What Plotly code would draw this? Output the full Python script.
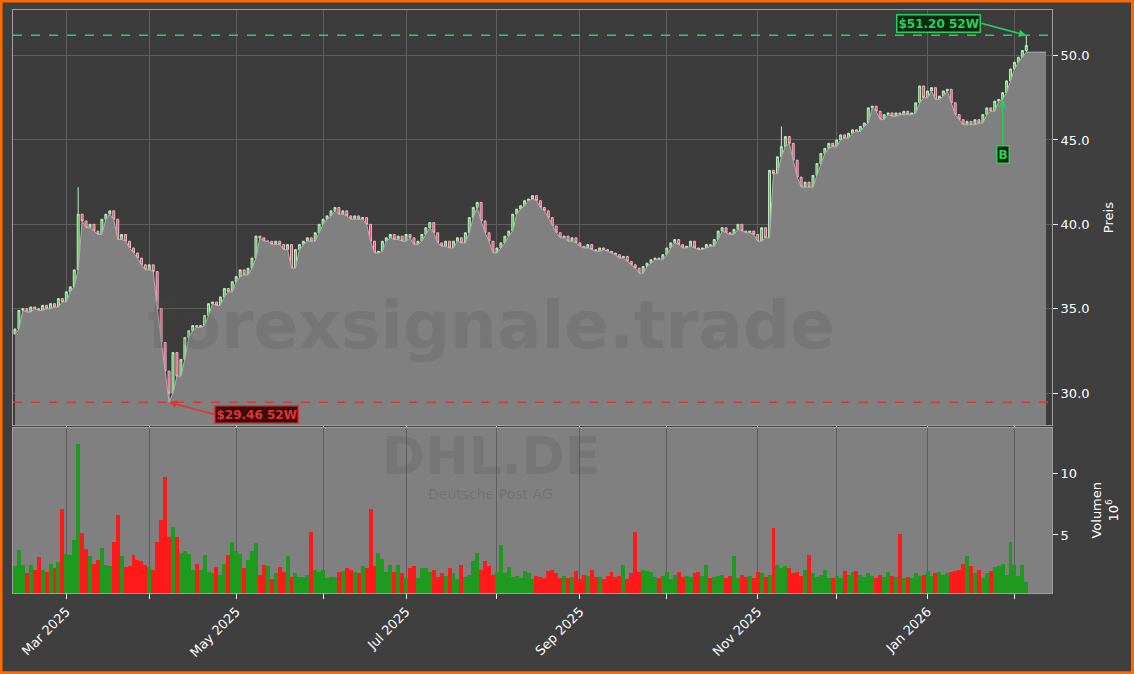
import pandas as pd
import plotly.graph_objects as go
from plotly.subplots import make_subplots

start_date = "2025-02-12"
closes = [
33.8,34.9,35.0,34.8,35.1,35.0,34.9,35.2,35.0,35.3,35.1,35.6,35.4,36.0,36.3,37.3,40.6,40.2,39.8,40.0,
39.6,39.4,40.3,40.6,40.8,40.3,39.1,39.4,39.0,38.6,38.3,38.0,37.6,37.3,37.6,37.2,35.0,33.0,31.3,30.0,
32.4,31.0,32.0,33.3,33.7,34.0,33.9,34.0,34.6,35.3,35.4,35.2,35.7,36.2,36.0,36.6,36.9,37.3,37.0,37.4,
38.0,39.3,39.2,39.0,39.0,38.8,39.0,38.8,38.5,38.8,37.4,38.5,38.8,39.0,39.2,39.0,39.5,40.0,40.3,40.5,
40.8,41.0,40.6,40.8,40.5,40.3,40.5,40.3,40.4,40.0,39.0,38.3,38.4,39.0,39.2,39.4,39.1,39.3,39.0,39.4,
39.2,38.8,39.0,39.4,39.8,40.1,39.5,38.9,38.7,39.0,38.6,39.0,39.2,38.9,39.5,40.4,41.0,41.3,40.2,39.5,
39.0,38.3,38.6,38.9,39.3,39.6,40.6,40.9,41.1,41.4,41.5,41.7,41.4,41.0,40.8,40.4,39.9,39.5,39.2,39.3,
39.0,39.2,38.9,38.7,38.6,38.8,38.5,38.4,38.6,38.5,38.4,38.3,38.2,38.0,38.1,37.8,37.6,37.4,37.1,37.5,
37.7,37.9,38.0,37.9,38.2,38.6,38.9,39.1,38.8,38.6,38.7,39.0,38.6,38.5,38.6,38.8,38.7,39.1,39.6,39.8,
39.5,39.4,39.7,40.0,39.6,39.5,39.6,39.4,39.0,39.8,39.2,43.2,43.0,44.0,44.6,45.2,44.8,43.8,42.8,42.2,
42.5,42.2,42.9,43.6,44.2,44.5,44.8,44.6,45.0,45.3,45.1,45.4,45.6,45.5,45.8,46.0,46.9,47.0,46.7,46.2,
46.5,46.6,46.4,46.6,46.5,46.7,46.5,46.6,47.2,48.2,47.5,47.9,48.1,47.4,47.6,47.9,48.0,47.2,46.5,46.2,
45.9,46.1,45.9,46.2,46.0,46.5,46.9,46.7,47.3,47.4,47.8,48.5,49.2,49.6,49.9,50.3,50.6]
first_open = 33.5
wick_idx = [16, 39, 194, 256]
wick_high = [42.2, 31.2, 45.8, 51.20]
wick_low = [38.0, 29.46, 44.2, 50.2]
volumes = [
2.5,3.8,2.6,1.9,2.6,2.2,3.2,2.2,2.0,2.7,2.3,2.8,7.2,3.5,3.4,4.6,12.5,5.2,3.9,3.3,2.7,3.0,4.0,2.6,2.5,4.5,6.7,3.3,2.4,2.5,3.4,3.0,2.9,2.6,2.4,2.2,4.5,6.3,
9.8,4.9,5.7,4.9,3.6,3.7,3.5,2.2,2.7,2.2,3.4,2.0,1.9,2.4,1.8,2.7,3.4,4.5,3.7,3.5,2.3,3.0,3.7,4.4,
1.8,2.6,2.5,1.4,1.9,2.4,2.0,3.3,1.6,1.9,1.6,1.6,1.8,5.3,
2.2,2.0,2.2,1.5,1.6,1.6,2.0,2.1,2.3,2.2,2.0,1.9,2.5,2.3,7.2,
2.5,3.6,3.1,2.0,2.6,2.0,2.6,1.9,1.5,2.3,2.5,1.5,2.3,2.3,2.0,2.2,1.6,1.9,1.7,2.3,1.9,1.4,2.6,1.6,1.8,2.9,3.6,2.2,2.9,2.5,1.8,2.0,4.2,
1.9,2.4,1.6,1.7,1.5,2.1,1.9,1.4,1.7,1.6,1.5,2.1,2.2,1.9,1.5,1.7,1.5,1.6,2.1,1.4,1.8,1.7,2.2,1.6,1.6,1.4,1.7,2.0,1.6,1.7,2.6,1.4,1.9,5.3,
2.0,2.2,2.1,2.0,1.6,1.5,1.7,2.0,1.4,1.8,2.0,1.6,1.7,1.6,1.9,2.0,1.7,2.6,1.5,1.6,1.7,1.8,1.5,1.7,3.3,1.5,1.8,1.6,1.7,1.5,2.0,1.9,1.6,1.8,5.6,
2.6,2.3,2.5,2.3,1.9,2.0,1.7,2.2,3.4,1.9,1.6,1.8,2.2,1.5,1.5,1.7,1.5,2.1,1.8,2.0,2.1,1.8,1.6,1.9,1.7,1.5,1.8,1.6,2.0,1.7,1.6,5.1,
1.5,1.6,1.5,1.9,1.7,1.8,2.1,1.7,1.9,2.0,1.8,1.9,2.0,2.1,2.2,2.7,3.3,2.5,1.9,2.2,1.5,1.9,2.1,2.4,2.5,2.7,1.8,4.5,
2.6,1.7,2.6,1.2]
tick_labels = ["Mar 2025", "May 2025", "Jul 2025", "Sep 2025", "Nov 2025", "Jan 2026"]
high_52w, low_52w = 51.20, 29.46

n = len(closes)
volumes = (volumes + [1.5] * n)[:n]
dates = pd.bdate_range(start_date, periods=n)
x = list(range(n))
opens = [first_open] + closes[:-1]
highs = [max(o, c) for o, c in zip(opens, closes)]
lows = [min(o, c) for o, c in zip(opens, closes)]
for i, h, l in zip(wick_idx, wick_high, wick_low):
    highs[i] = max(highs[i], h); lows[i] = min(lows[i], l)
vcol = ["#1e9a1e" if c >= o else "#ff1a1a" for o, c in zip(opens, closes)]

month_starts = pd.date_range("2025-03-01", "2026-02-01", freq="MS")
tickvals, ticktext = [], []
for m in month_starts:
    idx = int((dates >= m).argmax())
    tickvals.append(idx)
    lab = m.strftime("%b %Y")
    ticktext.append(lab if lab in tick_labels else "")

fig = make_subplots(rows=2, cols=1, shared_xaxes=True, row_heights=[0.715, 0.285], vertical_spacing=0.004)
fig.add_trace(go.Scatter(x=x + [n + 4], y=lows + [lows[-1]], mode="lines", line=dict(color="#b0b0b0", width=1),
                         fill="tozeroy", fillcolor="#808080", hoverinfo="skip"), 1, 1)
fig.add_trace(go.Candlestick(x=x, open=opens, high=highs, low=lows, close=closes,
                             increasing=dict(line=dict(color="#c0eec0", width=1), fillcolor="#4cbf4c"),
                             decreasing=dict(line=dict(color="#f6b8c6", width=1), fillcolor="#e8406a"),
                             whiskerwidth=0), 1, 1)
fig.add_trace(go.Bar(x=x, y=volumes, marker=dict(color=vcol, line=dict(width=0)), width=1.0), 2, 1)

fig.add_hline(y=high_52w, line=dict(color="#2ecc5e", width=1.5, dash="dash"), row=1, col=1)
fig.add_hline(y=low_52w, line=dict(color="#e03535", width=1.5, dash="dash"), row=1, col=1)

ilow = wick_idx[1]
fig.add_annotation(x=n - 1, y=high_52w, ax=-45, ay=-12, text="<b>$51.20 52W</b>", showarrow=True, arrowhead=2,
                   arrowcolor="#2ecc5e", arrowwidth=1.5, font=dict(color="#2ecc5e", size=12, family="DejaVu Sans"),
                   bgcolor="#0c2a10", bordercolor="#2ecc5e", borderwidth=1.5, xanchor="right", row=1, col=1)
fig.add_annotation(x=ilow, y=low_52w, ax=45, ay=12, text="<b>$29.46 52W</b>", showarrow=True, arrowhead=2,
                   arrowcolor="#e03535", arrowwidth=1.5, font=dict(color="#e03535", size=12, family="DejaVu Sans"),
                   bgcolor="#3a0c0c", bordercolor="#e03535", borderwidth=1.5, xanchor="left", row=1, col=1)
fig.add_annotation(x=250, y=lows[250], ax=0, ay=55, text="<b>B</b>", showarrow=True, arrowhead=2,
                   arrowcolor="#2ecc5e", arrowwidth=1.5, font=dict(color="#2ecc5e", size=12, family="DejaVu Sans"),
                   bgcolor="#0c2a10", bordercolor="#2ecc5e", borderwidth=1.5, row=1, col=1)

fig.add_annotation(xref="x domain", yref="y domain", x=0.46, y=0.24, yanchor="middle", text="<b>forexsignale.trade</b>",
                   showarrow=False, font=dict(size=66, color="rgba(70,70,70,0.16)", family="DejaVu Sans"))
fig.add_annotation(xref="x2 domain", yref="y2 domain", x=0.46, y=0.83, yanchor="middle", text="<b>DHL.DE</b>",
                   showarrow=False, font=dict(size=52, color="rgba(70,70,70,0.16)", family="DejaVu Sans"))
fig.add_annotation(xref="x2 domain", yref="y2 domain", x=0.46, y=0.60, yanchor="middle", text="Deutsche Post AG",
                   showarrow=False, font=dict(size=14, color="rgba(70,70,70,0.25)", family="DejaVu Sans"))

fig.add_shape(type="rect", xref="x2 domain", yref="y2 domain", x0=0, x1=1, y0=0, y1=1,
              fillcolor="#808080", line=dict(width=0), layer="below")
fig.add_shape(type="rect", xref="paper", yref="paper", x0=-0.0115, x1=1.0775, y0=-0.137, y1=1.0155,
              line=dict(color="#ff6a00", width=3))

ax_style = dict(showline=True, linecolor="#a0a0a0", mirror=True, gridcolor="#5e5e5e", zeroline=False,
                tickfont=dict(color="white", size=13, family="DejaVu Sans"), ticks="outside", tickcolor="white")
fig.update_xaxes(range=[-0.5, n + 5.5], tickvals=tickvals, ticktext=ticktext, rangeslider_visible=False, **ax_style)
fig.update_xaxes(tickangle=-45, row=2, col=1)
fig.update_yaxes(side="right", **ax_style)
fig.update_yaxes(range=[28.1, 52.7], tickvals=[30, 35, 40, 45, 50], tickformat=".1f",
                 title=dict(text="Preis", font=dict(color="white", size=13)), row=1, col=1)
fig.update_yaxes(range=[0.25, 13.8], tickvals=[5, 10], showgrid=False,
                 title=dict(text="Volumen<br>10<sup>6</sup>", font=dict(color="white", size=13)), row=2, col=1)
fig.update_layout(width=1134, height=674, paper_bgcolor="#3f3f3f", plot_bgcolor="#3c3c3c", showlegend=False,
                  margin=dict(l=13, r=82, t=10, b=81), bargap=0, font=dict(family="DejaVu Sans"))
fig.write_html("out.html", config={"displayModeBar": False},
               post_script="document.body.style.margin='0';document.body.style.overflow='hidden';")
